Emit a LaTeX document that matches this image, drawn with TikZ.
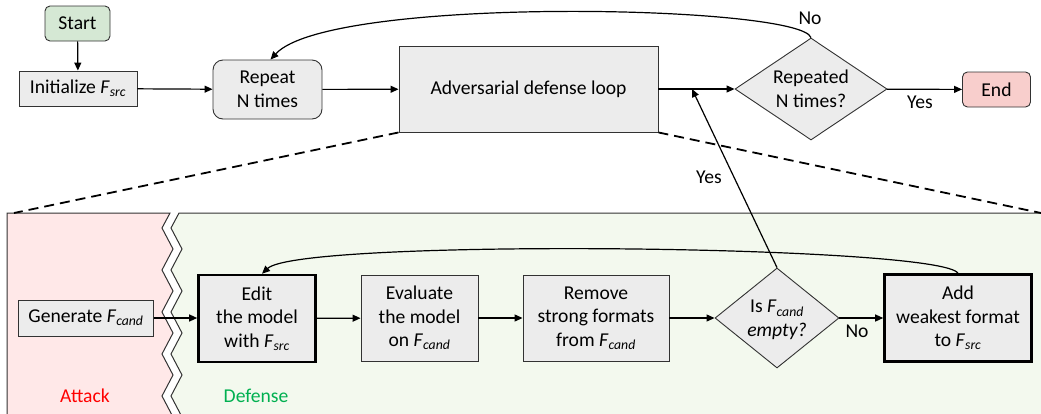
\documentclass[tikz,border=0pt]{standalone}
\usepackage{fontspec}
\setmainfont{Carlito}
\usetikzlibrary{shapes.geometric,arrows.meta}
\definecolor{boxfill}{RGB}{236,236,236}
\definecolor{linegray}{RGB}{50,50,50}
\definecolor{startfill}{RGB}{213,232,212}
\definecolor{endfill}{RGB}{248,206,204}
\definecolor{pinkfill}{RGB}{255,232,232}
\definecolor{greenfill}{RGB}{243,249,238}
\definecolor{attackred}{RGB}{255,0,0}
\definecolor{defgreen}{RGB}{0,176,80}
\newcommand\Fsub[1]{\textit{F}\textsubscript{\textit{#1}}}
\begin{document}
\begin{tikzpicture}[x=1pt,y=-1pt,
  font=\fontsize{19.6}{23.5}\selectfont,
  box/.style={draw=linegray, fill=boxfill, line width=0.9pt, inner sep=0pt, align=center},
  thickbox/.style={box, draw=black, line width=2.6pt},
  dec/.style={diamond, draw=linegray, fill=boxfill, line width=0.9pt, inner sep=0pt},
  arr/.style={-{Triangle[length=8pt,width=7pt]}, line width=1.2pt},
  lbl/.style={inner sep=0pt, align=center},
  zoomline/.style={dashed, dash pattern=on 10pt off 6pt, line width=1.8pt}]
\useasboundingbox (0,0) rectangle (1041,413);

% panels
\begin{scope}
\clip (0,0) rectangle (1041,413);
\filldraw[fill=pinkfill, draw=linegray, line width=1pt]
  (7,440) -- (7,213) -- (170,213) -- (162,228) -- (173,249) -- (162,270) -- (173,291)
  -- (162,312) -- (173,333) -- (162,354) -- (173,375) -- (162,396) -- (173,417) -- (162,438) -- (162,440) -- cycle;
\filldraw[fill=greenfill, draw=linegray, line width=1pt]
  (1045,440) -- (1045,213) -- (179,213) -- (171,228) -- (182,249) -- (171,270) -- (182,291)
  -- (171,312) -- (182,333) -- (171,354) -- (182,375) -- (171,396) -- (182,417) -- (171,438) -- (171,440) -- cycle;
\end{scope}

% top row
\node[box, fill=startfill, rounded corners=5pt, minimum width=65pt, minimum height=35pt] (start) at (77.5,23.5) {Start};
\node[box, minimum width=118pt, minimum height=35pt] (init) at (78,88.5) {Initialize \Fsub{src}};
\node[box, rounded corners=10pt, minimum width=109pt, minimum height=59pt] (rep) at (267.5,89.5) {Repeat\\N times};
\node[box, minimum width=259pt, minimum height=86pt] (adv) at (528.5,89) {Adversarial defense loop};
\node[dec, minimum width=152pt, minimum height=102pt] (d1) at (811,89) {};
\node[lbl] at (d1.center) {Repeated\\N times?};
\node[box, fill=endfill, rounded corners=5pt, minimum width=68pt, minimum height=35pt] (end) at (996.5,89.5) {End};

\coordinate (zl) at (14,213);
\coordinate (zr) at (1041,213);
\draw[zoomline] (adv.south west) -- (zl);
\draw[zoomline] (adv.south east) -- (zr);

\draw[arr] (start) -- (init);
\draw[arr] (init) -- (rep);
\draw[arr] (rep) -- (adv);
\draw[arr] (adv) -- (d1);
\draw[arr] (d1) -- (end);
\node[lbl] at (920,102) {Yes};
\draw[arr] (d1.north) .. controls (800,5) and (330,-5) .. ([xshift=3pt]rep.north);
\node[lbl] at (810,18) {No};

% bottom row
\node[box, minimum width=135pt, minimum height=36pt] (gen) at (86,318) {Generate \Fsub{cand}};
\node[thickbox, minimum width=117pt, minimum height=87pt] (edit) at (257,318.5) {Edit\\the model\\with \Fsub{src}};
\node[box, minimum width=117pt, minimum height=86pt] (eval) at (419.5,318) {Evaluate\\the model\\on \Fsub{cand}};
\node[box, minimum width=146pt, minimum height=86pt] (rem) at (596,318) {Remove\\strong formats\\from \Fsub{cand}};
\node[dec, minimum width=124pt, minimum height=100pt] (d2) at (777,318) {};
\node[lbl] at (777,320) {Is \Fsub{cand}\\\textit{empty?}};
\node[thickbox, minimum width=147pt, minimum height=87pt] (add) at (958,318) {Add\\weakest format\\to \Fsub{src}};

\draw[arr] (gen) -- (edit.west|-gen);
\draw[arr] (edit) -- (eval);
\draw[arr] (eval) -- (rem);
\draw[arr] (rem) -- (d2);
\draw[arr] (d2) -- (add);
\node[lbl] at (857,331) {No};
\draw[arr] (add.north) .. controls (940,245) and (300,238) .. ([xshift=5pt]edit.north);

\coordinate (yesend) at (692,89);
\draw[arr] (d2.north) -- (yesend);
\node[lbl] at (709,177) {Yes};

\node[lbl, text=attackred] at (85,396) {Attack};
\node[lbl, text=defgreen] at (256,396) {Defense};
\end{tikzpicture}
\end{document}
